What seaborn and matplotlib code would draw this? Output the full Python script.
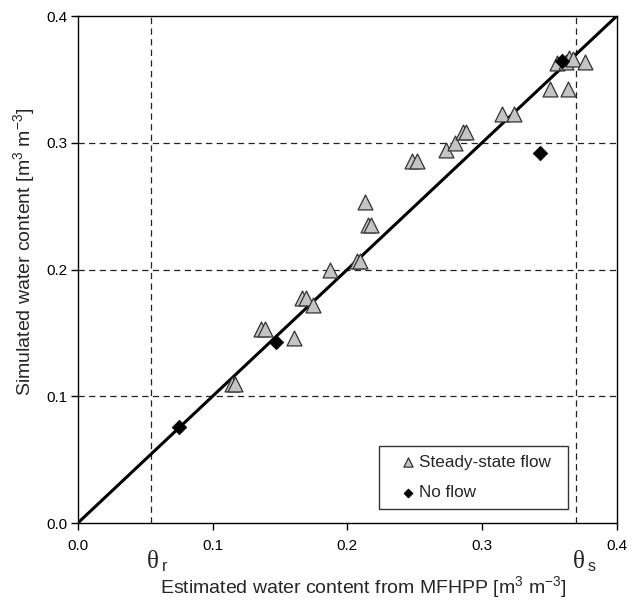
import matplotlib
matplotlib.use("Agg")
import matplotlib.pyplot as plt
import seaborn as sns
import pandas as pd

# ---- data ----
ss_x = [0.1142, 0.1167, 0.1360, 0.1389, 0.1602, 0.1664, 0.1693, 0.1748, 0.1872,
        0.2070, 0.2094, 0.2131, 0.2156, 0.2174, 0.2478, 0.2519, 0.2732, 0.2799,
        0.2861, 0.2879, 0.3146, 0.3239, 0.3504, 0.3638, 0.3559, 0.3623, 0.3648,
        0.3673, 0.3764]
ss_y = [0.1097, 0.1097, 0.1531, 0.1531, 0.1458, 0.1773, 0.1773, 0.1721, 0.1997,
        0.2070, 0.2070, 0.2531, 0.2350, 0.2350, 0.2860, 0.2860, 0.2944, 0.3002,
        0.3088, 0.3088, 0.3228, 0.3228, 0.3425, 0.3425, 0.3628, 0.3636, 0.3668,
        0.3660, 0.3641]
no_x = [0.0753, 0.1471, 0.3430, 0.3591]
no_y = [0.0755, 0.1431, 0.2923, 0.3646]
line_x = [0.0, 0.4]
line_y = [0.0, 0.4]
theta_r = 0.054
theta_s = 0.370
grid_y = [0.1, 0.2, 0.3]
ticks = [0.0, 0.1, 0.2, 0.3, 0.4]
tick_labels = ["0.0", "0.1", "0.2", "0.3", "0.4"]
label_ss = "Steady-state flow"
label_no = "No flow"
xlabel = "Estimated water content from MFHPP [m$^3$ m$^{-3}$]"
ylabel = "Simulated water content [m$^3$ m$^{-3}$]"

sns.set_theme(style="white")
plt.rcParams['font.family'] = ['Liberation Sans', 'DejaVu Sans']
plt.rcParams['mathtext.fontset'] = 'custom'
plt.rcParams['mathtext.rm'] = 'Liberation Sans'
plt.rcParams['mathtext.it'] = 'Liberation Sans'
plt.rcParams['mathtext.default'] = 'regular'

fig = plt.figure(figsize=(6.42, 6.0), dpi=100)
ax = fig.add_axes([0.1212, 0.1283, 0.8395, 0.845])

dash = (0, (5, 3.5))
for gy in grid_y:
    ax.axhline(gy, color="#222222", lw=0.9, ls=dash, zorder=1)
for tx in [theta_r, theta_s]:
    ax.axvline(tx, color="#222222", lw=0.9, ls=dash, zorder=1)

sns.lineplot(x=line_x, y=line_y, ax=ax, color="black", lw=2.2, zorder=2)

df_ss = pd.DataFrame({"x": ss_x, "y": ss_y})
df_no = pd.DataFrame({"x": no_x, "y": no_y})
sns.scatterplot(data=df_ss, x="x", y="y", ax=ax, marker="^", s=115,
                color="#c4c4c4", edgecolor="#333333", linewidth=0.9,
                label=label_ss, zorder=3)
sns.scatterplot(data=df_no, x="x", y="y", ax=ax, marker="D", s=55,
                color="black", edgecolor="black", linewidth=0.5,
                label=label_no, zorder=4)

ax.set_xlim(0, 0.4)
ax.set_ylim(0, 0.4)
ax.set_xticks(ticks)
ax.set_xticklabels(tick_labels)
ax.set_yticks(ticks)
ax.set_yticklabels(tick_labels)
ax.tick_params(axis="both", direction="out", length=5, width=1, colors="black",
               labelsize=11, bottom=True, left=True)
ax.tick_params(axis="x", pad=6.5)
ax.tick_params(axis="y", pad=2.5)
for sp in ax.spines.values():
    sp.set_color("black")
    sp.set_linewidth(1.0)
ax.grid(False)

ax.set_xlabel(xlabel, fontsize=14)
ax.set_ylabel(ylabel, fontsize=14)
ax.xaxis.label.set_va("baseline")
ax.yaxis.label.set_va("center")
ax.xaxis.set_label_coords(0.530, -0.1387)
ax.yaxis.set_label_coords(-0.0998, 0.5345)

# theta labels
trans = ax.get_xaxis_transform()
for tx, sub in [(theta_r, "r"), (theta_s, "s")]:
    ax.annotate("θ", xy=(tx, 0), xycoords=trans, xytext=(2.5, -44.7),
                textcoords="offset pixels", ha="center", va="baseline",
                fontsize=18, family="Liberation Serif")
    ax.annotate(sub, xy=(tx, 0), xycoords=trans, xytext=(11.0, -47.5),
                textcoords="offset pixels", ha="left", va="baseline",
                fontsize=11.5)

leg = ax.legend(loc="lower left", bbox_to_anchor=(0.5594, 0.0276, 0.3495, 0.1),
                mode="expand", borderaxespad=0, fontsize=12.3, markerscale=0.62,
                labelspacing=0.92, borderpad=0.51, handlelength=2.3,
                handletextpad=-0.47, fancybox=False, framealpha=1,
                edgecolor="#333333")
leg.get_frame().set_linewidth(1.0)

fig.savefig("out.png", dpi=100)
